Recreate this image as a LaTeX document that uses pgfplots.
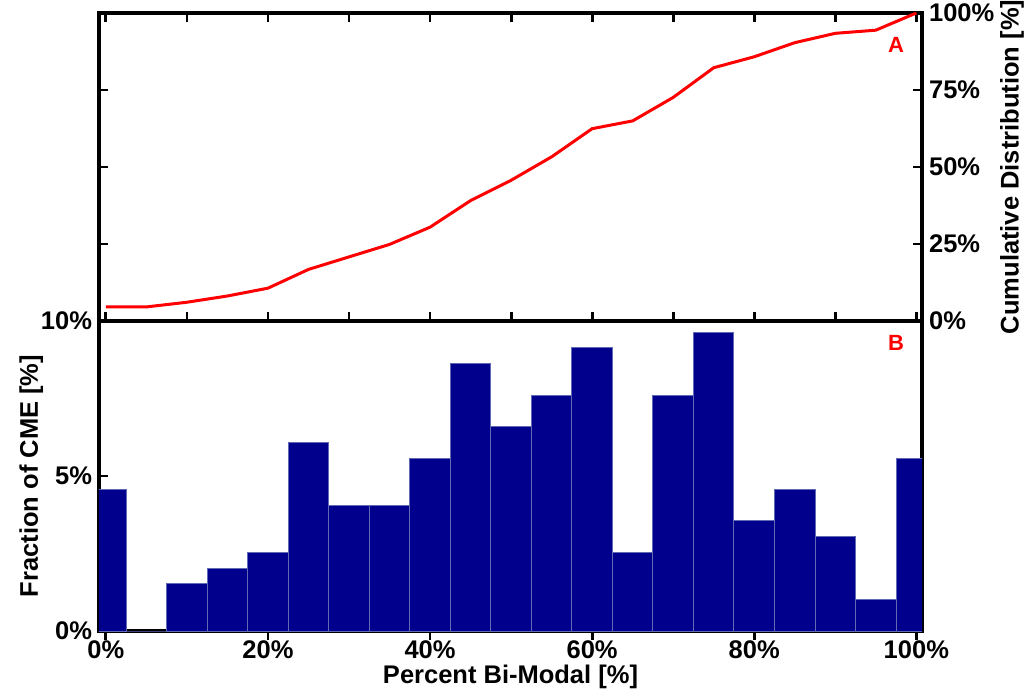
\documentclass[border=0pt]{standalone}
\usepackage{pgfplots}
\pgfplotsset{compat=1.18}
\usepackage{fontspec}
\setmainfont{Liberation Sans}
\definecolor{barblue}{RGB}{0,0,140}
\definecolor{baredge}{RGB}{95,105,180}
\begin{document}
\begin{tikzpicture}[font=\bfseries\fontsize{12.75}{15}\selectfont]
\useasboundingbox (-49.5pt,-32.5pt) rectangle (466pt,315.5pt);
\pgfplotsset{
  common/.style={
    scale only axis, width=411.5pt, xmin=-0.85, xmax=100.7,
    axis line style={line width=1.8pt, black},
    every outer x axis line/.append style={line width=1.8pt},
    every outer y axis line/.append style={line width=1.8pt},
    tick style={line width=1.4pt, black},
    major tick length=4.5pt,
    tick align=inside,
    tick label style={font=\bfseries\fontsize{12.75}{15}\selectfont},
    label style={font=\bfseries\fontsize{12.75}{15}\selectfont},
  }
}
% top panel: left-side ticks only (no labels)
\begin{axis}[common, at={(0pt,155pt)}, anchor=south west, height=154pt,
  ymin=0, ymax=100, xtick=\empty,
  ytick={0,25,50,75,100}, yticklabels={}, ytick pos=left]
\end{axis}
% top panel: cumulative distribution
\begin{axis}[common, at={(0pt,155pt)}, anchor=south west, height=154pt,
  ymin=0, ymax=100,
  xtick={0,10,...,100}, xticklabels={},
  ytick={0,25,50,75,100}, yticklabels={0\%,25\%,50\%,75\%,100\%},
  ytick pos=right, yticklabel pos=right,
  ylabel={Cumulative Distribution [\%]}, ylabel shift=-4pt]
\addplot[red, line width=1.5pt] coordinates {
(0,4.57) (5,4.57) (10,6.09) (15,8.12) (20,10.66) (25,16.75) (30,20.81)
(35,24.87) (40,30.46) (45,39.09) (50,45.69) (55,53.30) (60,62.44)
(65,64.97) (70,72.59) (75,82.23) (80,85.79) (85,90.36) (90,93.40)
(95,94.42) (100,100)};
\node[red, font=\bfseries\fontsize{11}{12}\selectfont] at (axis cs:97.5,89.5) {A};
\end{axis}
% bottom panel: histogram
\begin{axis}[common, at={(0pt,0pt)}, anchor=south west, height=155pt,
  ymin=0, ymax=10,
  xtick={0,20,...,100}, xticklabels={0\%,20\%,40\%,60\%,80\%,100\%},
  xticklabel shift=-3pt,
  ytick={0,5,10}, yticklabels={0\%,5\%,10\%}, ytick pos=left,
  xlabel={Percent Bi-Modal [\%]}, xlabel style={yshift=4pt},
  ylabel={Fraction of CME [\%]}, ylabel shift=-8pt,
  ybar, bar width=5, bar shift=0]
\addplot[fill=barblue, draw=baredge, line width=0.5pt] coordinates {
(0,4.57) (5,0) (10,1.52) (15,2.03) (20,2.54) (25,6.09) (30,4.06)
(35,4.06) (40,5.58) (45,8.63) (50,6.60) (55,7.61) (60,9.14)
(65,2.54) (70,7.61) (75,9.64) (80,3.55) (85,4.57) (90,3.05)
(95,1.02) (100,5.58)};
\node[red, font=\bfseries\fontsize{11}{12}\selectfont] at (axis cs:97.5,9.3) {B};
\end{axis}
\end{tikzpicture}
\end{document}
